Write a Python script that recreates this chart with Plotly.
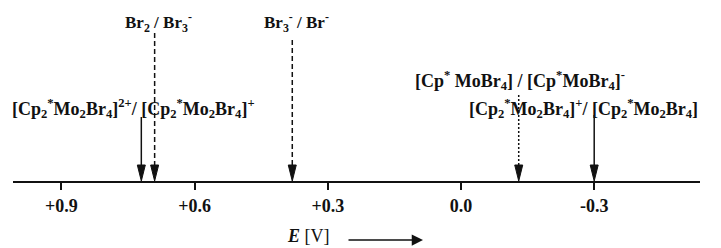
import plotly.graph_objects as go

# ---- data ----
couples = [
    "[Cp<sub>2</sub><sup>*</sup>Mo<sub>2</sub>Br<sub>4</sub>]<sup>2+</sup>/ [Cp<sub>2</sub><sup>*</sup>Mo<sub>2</sub>Br<sub>4</sub>]<sup>+</sup>",
    "Br<sub>2</sub> / Br<sub>3</sub><sup>-</sup>",
    "Br<sub>3</sub><sup>-</sup> / Br<sup>-</sup>",
    "[Cp<sup>*</sup> MoBr<sub>4</sub>] / [Cp<sup>*</sup>MoBr<sub>4</sub>]<sup>-</sup>",
    "[Cp<sub>2</sub><sup>*</sup>Mo<sub>2</sub>Br<sub>4</sub>]<sup>+</sup>/ [Cp<sub>2</sub><sup>*</sup>Mo<sub>2</sub>Br<sub>4</sub>]",
]
potentials = [0.72, 0.69, 0.38, -0.13, -0.30]
tick_values = [0.9, 0.6, 0.3, 0.0, -0.3]
tick_labels = ["+0.9", "+0.6", "+0.3", "0.0", "-0.3"]

# ---- layout / style (positions given in page pixels) ----
OFF = 8                      # page body margin
W, H = 721 - OFF, 248 - OFF
AXIS_Y = 181 - OFF
line_styles = ["solid", "5px,3px", "5px,3px", "2px,2px", "solid"]
arrow_top = [117, 33, 40, 95, 115]
label_x_px = [10, 123, 262, 413, 467]
label_y_px = [108, 22, 22, 80, 108]
label_size = [18, 17, 17, 18, 18]

PX_PER_V = 444.0
ZERO_PX = 461.0 - OFF
def e_at(px):
    return (ZERO_PX - px) / PX_PER_V

TICKFONT = dict(family="Liberation Serif", size=18, color="#111111")
BOLD = lambda s: "<b>" + s + "</b>"

fig = go.Figure()
fig.add_trace(go.Scatter(x=[None], y=[None], showlegend=False))

x0_px, x1_px = 13 - OFF, 700 - OFF
fig.update_layout(
    width=W, height=H,
    margin=dict(l=0, r=0, t=0, b=H - AXIS_Y, autoexpand=False),
    paper_bgcolor="white", plot_bgcolor="white",
    showlegend=False,
    xaxis=dict(
        domain=[x0_px / W, x1_px / W],
        range=[e_at(x0_px), e_at(x1_px)],
        showgrid=False, zeroline=False,
        showline=True, linecolor="#111111", linewidth=2,
        ticks="outside", ticklen=7, tickwidth=1.5, tickcolor="#111111",
        tickvals=tick_values,
        ticktext=[BOLD(t) for t in tick_labels],
        tickfont=TICKFONT,
        fixedrange=True, automargin=False,
    ),
    yaxis=dict(range=[AXIS_Y, 0], visible=False, fixedrange=True),
)

head_len = 16
head_half = 4.0 / PX_PER_V
for e, top, dash in zip(potentials, arrow_top, line_styles):
    fig.add_shape(type="line", xref="x", yref="y",
                  x0=e, x1=e, y0=top - OFF, y1=AXIS_Y - head_len + 2,
                  line=dict(color="#111111", width=1.5, dash=dash))
    fig.add_shape(type="path", xref="x", yref="y",
                  path=f"M {e - head_half},{AXIS_Y - head_len} L {e + head_half},{AXIS_Y - head_len} L {e},{AXIS_Y} Z",
                  fillcolor="#111111", line=dict(color="#111111", width=1))

for txt, lx, ly, fs in zip(couples, label_x_px, label_y_px, label_size):
    fig.add_annotation(xref="paper", yref="y", x=(lx - OFF) / W, y=ly - OFF,
                       text=BOLD(txt), showarrow=False,
                       xanchor="left", yanchor="middle",
                       font=dict(family="Liberation Serif", size=fs, color="#111111"))

# axis title with arrow
ey = (AXIS_Y - (236 - OFF)) / AXIS_Y
ay_arrow = (AXIS_Y - (240 - OFF)) / AXIS_Y
fig.add_annotation(xref="paper", yref="paper", x=(285 - OFF) / W, y=ey,
                   text="<b><i>E</i></b> [V]", showarrow=False,
                   xanchor="left", yanchor="middle",
                   font=dict(family="Liberation Serif", size=18, color="#111111"))
fig.add_annotation(xref="paper", yref="paper", x=(423 - OFF) / W, y=ay_arrow,
                   ax=-76, ay=0, axref="pixel", ayref="pixel",
                   text="", showarrow=True, arrowhead=2, arrowsize=1.5,
                   arrowwidth=1.5, arrowcolor="#111111")

fig.write_html("out.html")
